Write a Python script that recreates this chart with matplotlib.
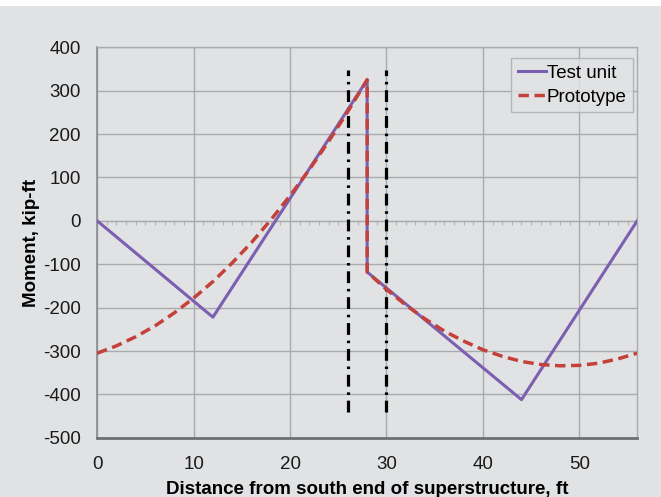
import numpy as np
import matplotlib.pyplot as plt
from matplotlib.patches import Rectangle

plt.rcParams['font.family'] = ['Liberation Sans', 'DejaVu Sans']
plt.rcParams['axes.unicode_minus'] = False

# Test unit moment diagram (ft, kip-ft)
test_x = [0, 12, 28, 28, 44, 56]
test_m = [0, -222, 325, -118, -412, 0]

# Prototype moment diagram, every 2 ft
proto_x = [0, 2, 4, 6, 8, 10, 12, 14, 16, 18, 20, 22, 24, 26, 28,
           28, 30, 32, 34, 36, 38, 40, 42, 44, 46, 48, 50, 52, 54, 56]
proto_m = [-305, -288, -267, -242, -212, -178, -140, -97, -50, 2, 58, 118, 183, 252, 325,
           -118, -158, -194, -226, -254, -277, -297, -312, -324, -331, -334, -333, -328, -318, -305]

# Dash-dot marker lines
marker_x = [26, 30]
marker_lo, marker_hi = -440, 348

bg = '#e1e2e4'
fig = plt.figure(figsize=(6.61, 4.97), dpi=100, facecolor=bg)
# thin white strip along the top edge of the scan
fig.add_artist(Rectangle((0, 1 - 6 / 497), 1, 6 / 497, transform=fig.transFigure,
                         facecolor='white', edgecolor='none'))
ax = fig.add_axes([0.147, 0.119, 0.817, 0.786], facecolor=bg)

ax.set_xlim(0, 56)
ax.set_ylim(-500, 400)
ax.set_xticks(np.arange(0, 51, 10))
ax.set_yticks(np.arange(-500, 401, 100))
ax.grid(True, color='#a9aaac', linewidth=1.0)
ax.set_axisbelow(True)
ax.tick_params(length=0, labelsize=13.5, colors='#1a1a1a')
ax.tick_params(axis='y', pad=12)
ax.tick_params(axis='x', pad=13)

for s in ['top', 'right']:
    ax.spines[s].set_color('#a9aaac')
    ax.spines[s].set_linewidth(1.0)
ax.spines['left'].set_color('#8a8b8d')
ax.spines['left'].set_linewidth(1.2)
ax.spines['bottom'].set_color('#6e6f71')
ax.spines['bottom'].set_linewidth(2.0)

# zero axis with small tick marks
zero = ax.secondary_xaxis(500 / 900)
zero.spines['bottom'].set_color('#b5b6b8')
zero.spines['top'].set_color('#b5b6b8')
zero.set_xticks(np.arange(0, 57, 1))
zero.tick_params(direction='in', length=3, color='#b5b6b8', labeltop=False, labelbottom=False)

for xv in marker_x:
    ax.plot([xv, xv], [marker_lo, marker_hi], color='black', linewidth=2.3,
            linestyle=(0, (3.7, 1.8, 0.8, 1.8)), zorder=3)

ax.plot(test_x, test_m, color='#7b5fb0', linewidth=2.2, label='Test unit', zorder=4)
ax.plot(proto_x, proto_m, color='#c4403a', linewidth=2.5, linestyle=(0, (3, 1.6)),
        label='Prototype', zorder=5)

leg = ax.legend(loc='upper right', bbox_to_anchor=(0.9926, 0.972), fontsize=13.5,
                frameon=True, fancybox=False, handlelength=1.5, handletextpad=0.05,
                borderpad=0.35, labelspacing=0.35, borderaxespad=0)
leg.get_frame().set_edgecolor('#a9aaac')
leg.get_frame().set_facecolor(bg)
leg.get_frame().set_linewidth(1.0)

ax.set_xlabel('Distance from south end of superstructure, ft', fontsize=13.5,
              fontweight='bold', labelpad=6)
ax.set_ylabel('Moment, kip-ft', fontsize=13.5, fontweight='bold', labelpad=2)

fig.savefig('out.png', dpi=100, facecolor=bg)
